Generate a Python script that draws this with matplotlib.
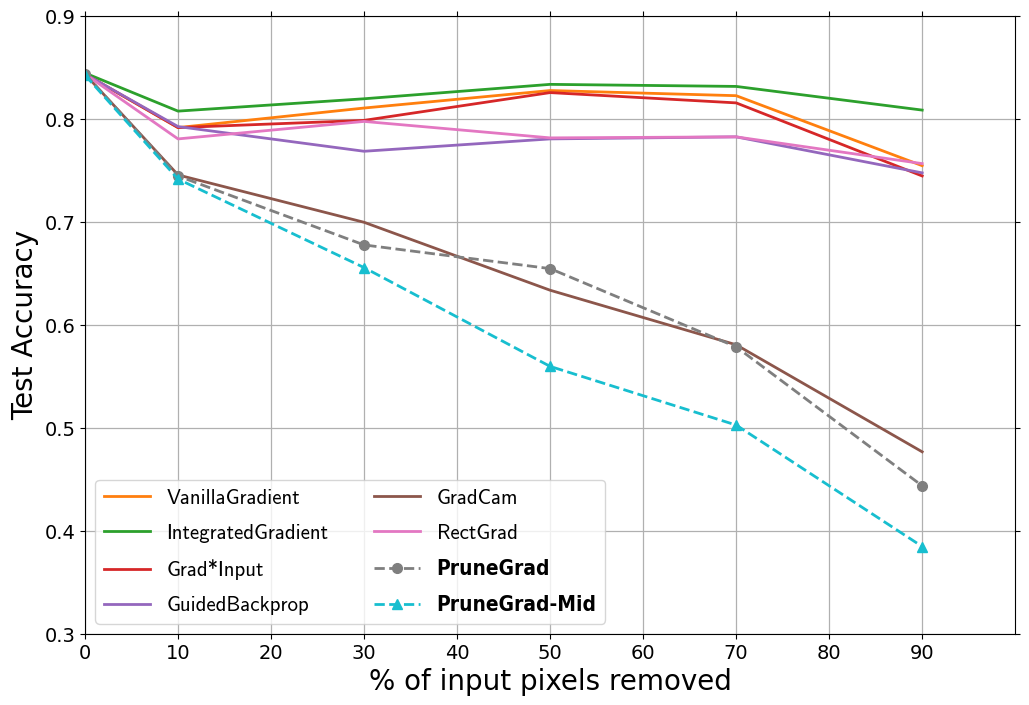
import matplotlib
matplotlib.use("Agg")
import matplotlib.pyplot as plt
import numpy as np

pixels_removed = [0, 10, 30, 50, 70, 90]

vanilla_grad = [0.844, 0.792, 0.811, 0.828, 0.823, 0.755]
integrated_grad = [0.845, 0.808, 0.820, 0.834, 0.832, 0.809]
grad_input = [0.844, 0.792, 0.799, 0.826, 0.816, 0.745]
guided_backprop = [0.844, 0.793, 0.769, 0.781, 0.783, 0.748]
grad_cam = [0.844, 0.746, 0.700, 0.634, 0.581, 0.477]
rect_grad = [0.844, 0.781, 0.798, 0.782, 0.783, 0.757]
prune_grad = [0.844, 0.745, 0.678, 0.655, 0.579, 0.444]
prune_grad_mid = [0.843, 0.742, 0.656, 0.560, 0.503, 0.385]

x_ticks = list(range(0, 100, 10))
y_ticks = [0.3, 0.4, 0.5, 0.6, 0.7, 0.8, 0.9]

fig = plt.figure(figsize=(10.29, 7.05), dpi=100)
ax = fig.add_axes([0.0826, 0.1007, 0.904, 0.876])

lw = 2
ax.plot(pixels_removed, vanilla_grad, color='C1', lw=lw, label='VanillaGradient')
ax.plot(pixels_removed, integrated_grad, color='C2', lw=lw, label='IntegratedGradient')
ax.plot(pixels_removed, grad_input, color='C3', lw=lw, label='Grad*Input')
ax.plot(pixels_removed, guided_backprop, color='C4', lw=lw, label='GuidedBackprop')
ax.plot(pixels_removed, grad_cam, color='C5', lw=lw, label='GradCam')
ax.plot(pixels_removed, rect_grad, color='C6', lw=lw, label='RectGrad')
ax.plot(pixels_removed, prune_grad, color='C7', lw=lw, ls='--', marker='o', ms=7, label='PruneGrad')
ax.plot(pixels_removed, prune_grad_mid, color='C9', lw=lw, ls='--', marker='^', ms=7, label='PruneGrad-Mid')

ax.set_xlim(0, 100)
ax.set_ylim(0.3, 0.9)
ax.set_xticks(x_ticks)
ax.set_yticks(y_ticks)
ax.grid(True, color='#b0b0b0', lw=0.9)
ax.tick_params(top=True, right=True, labelsize=14, direction='out')

ax.set_xlabel('% of input pixels removed', fontsize=20)
ax.set_ylabel('Test Accuracy', fontsize=20)

leg = ax.legend(loc='lower left', ncol=2, fontsize=15, handlelength=2.2,
                labelspacing=0.78, columnspacing=2.2)
for i, txt in enumerate(leg.get_texts()):
    if i >= 6:
        txt.set_fontweight('bold')
        txt.set_fontstretch('condensed')
    else:
        txt.set_family('cmss10')

fig.savefig('out.png', dpi=100)
